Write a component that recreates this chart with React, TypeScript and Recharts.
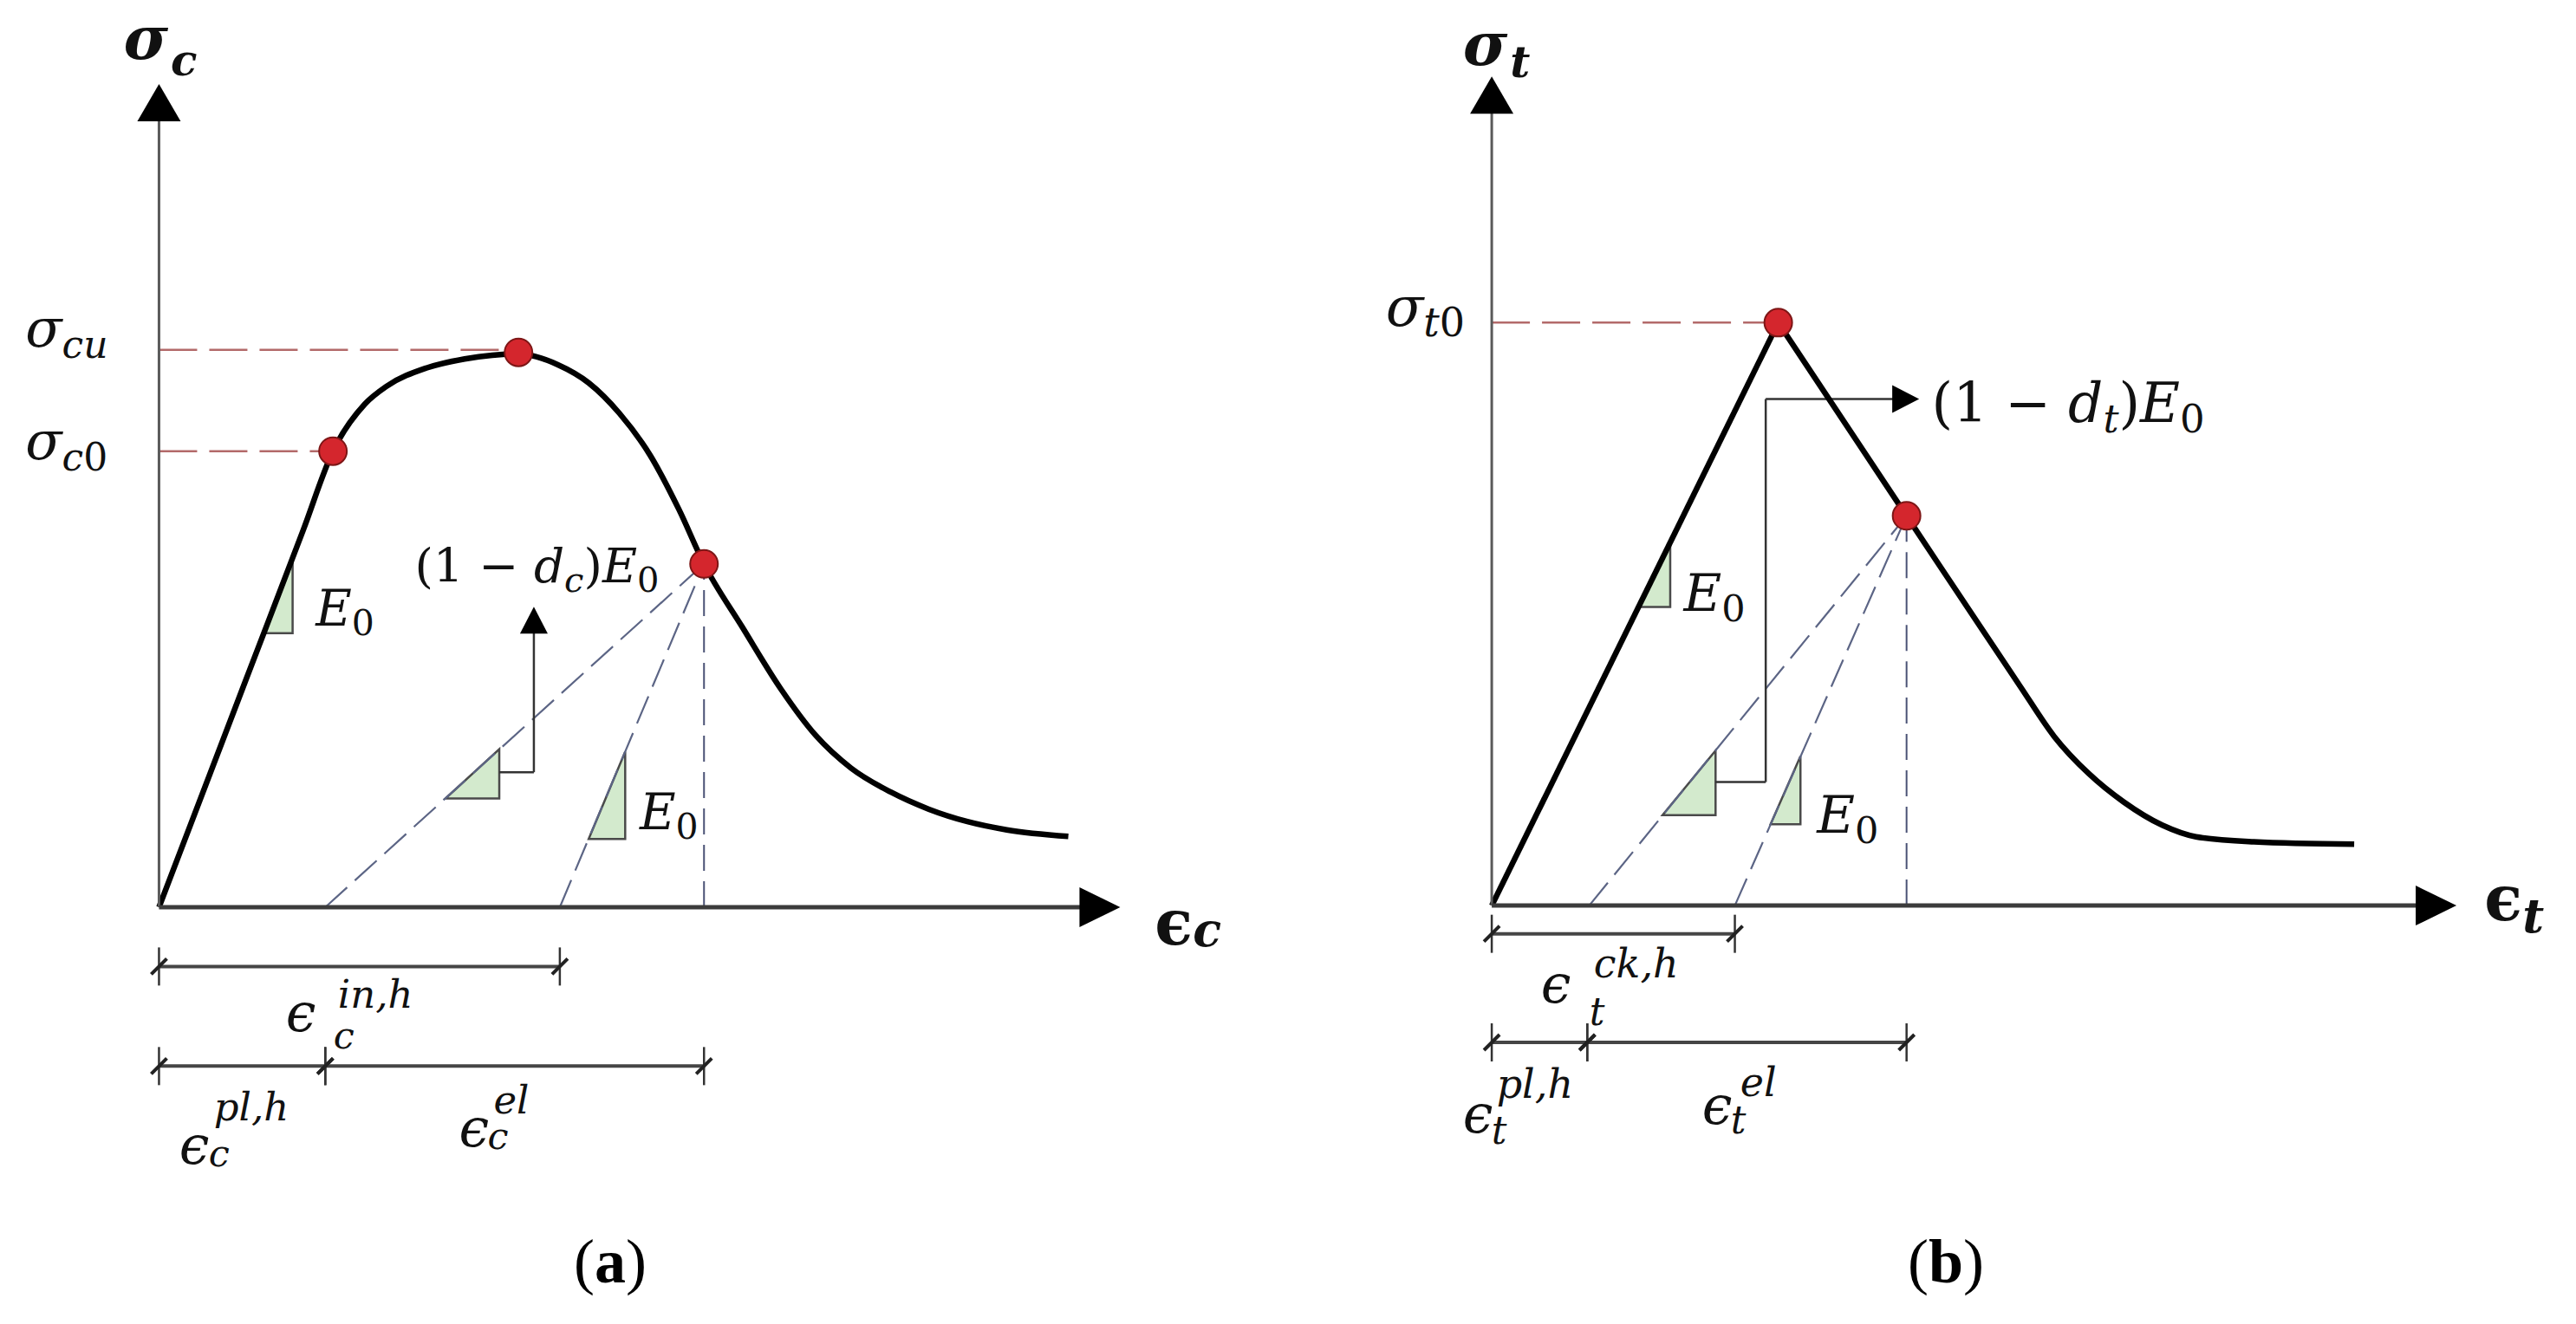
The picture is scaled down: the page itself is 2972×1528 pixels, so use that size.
import React from 'react';
import {
  LineChart,
  Line,
  XAxis,
  YAxis,
  ReferenceLine,
  ReferenceDot,
  ReferenceArea
} from 'recharts';

// ---------- (a) compression: strain / stress in arbitrary units ----------
const compStrain = [0, 0.9, 1.5, 1.81, 2.14, 2.37, 2.78, 3.18, 3.74, 4.15, 4.47, 4.79, 5.11, 5.41, 5.67, 6.07, 6.47, 6.83, 7.2, 7.61, 8.01, 8.41, 8.82, 9.46];
const compStress = [0, 2.75, 4.58, 5.54, 6.11, 6.33, 6.55, 6.66, 6.72, 6.59, 6.37, 6.0, 5.49, 4.83, 4.17, 3.4, 2.65, 2.09, 1.69, 1.4, 1.19, 1.04, 0.94, 0.86];
const compMarkStrain = [1.81, 3.74, 5.67]; // sigma_c0, sigma_cu, unloading point
const compMarkStress = [5.54, 6.74, 4.17];
const compLevelStress = [6.77, 5.54]; // sigma_cu, sigma_c0
const compLevelEnd = [3.74, 1.81];
const compUnloadFoot = [1.73, 4.17]; // damaged slope, E0 slope
const compTriX0 = [1.09, 2.98, 4.47];
const compTriX1 = [1.39, 3.54, 4.85];
const compTriY0 = [3.33, 1.32, 0.83];
const compTriY1 = [4.25, 1.92, 1.89];
const compStepX = [3.54, 3.9, 3.9];
const compStepY = [1.64, 1.64, 3.65];
const compDimY = [-0.72, -1.93];
const compDimInel = [0, 4.17];
const compDimSplit = [0, 1.73, 5.67];

// ---------- (b) tension ----------
const tensRiseStrain = [0, 2.97];
const tensRiseStress = [0, 7.03];
const tensSoftStrain = [2.97, 4.3, 5.48, 5.83, 6.19, 6.55, 6.95, 7.3, 7.9, 8.94];
const tensSoftStress = [7.03, 4.7, 2.64, 2.04, 1.59, 1.25, 0.97, 0.83, 0.77, 0.74];
const tensMarkStrain = [2.97, 4.3];
const tensMarkStress = [7.03, 4.7];
const tensLevelStress = [7.03];
const tensLevelEnd = [2.97];
const tensUnloadFoot = [1.01, 2.52];
const tensTriX0 = [1.52, 1.77, 2.89];
const tensTriX1 = [1.85, 2.32, 3.2];
const tensTriY0 = [3.6, 1.09, 0.98];
const tensTriY1 = [4.38, 1.87, 1.8];
const tensStepX = [2.32, 2.84, 2.84, 4.43];
const tensStepY = [1.49, 1.49, 6.11, 6.11];
const tensDimY = [-0.34, -1.65];
const tensDimCrack = [0, 2.52];
const tensDimSplit = [0, 0.99, 4.3];

const AXIS_MAX = 10;

const SERIF = '"DejaVu Serif", "Liberation Serif", serif';
const INK = '#111';

type Frame = { ox: number; oy: number; sx: number; sy: number; xDom: [number, number]; yDom: [number, number] };

// page position of each panel: origin in px and px per unit
const frameA: Frame = { ox: 183, oy: 1047, sx: 110.9, sy: 95, xDom: [-1.6, 11.6], yDom: [-4, 11] };
const frameB: Frame = { ox: 1721, oy: 1045, sx: 111.3, sy: 95.7, xDom: [-1.6, 11.2], yDom: [-4, 10.9] };

const pts = (xs: number[], ys: number[]) => xs.map((x, i) => ({ x, y: ys[i] }));

const arrowShape = (len: number, half: number, color: string, width: number) => (p: any) => {
  const { x1, y1, x2, y2 } = p;
  const dx = x2 - x1;
  const dy = y2 - y1;
  const L = Math.hypot(dx, dy) || 1;
  const ux = dx / L;
  const uy = dy / L;
  const bx = x2 - ux * len;
  const by = y2 - uy * len;
  return (
    <g>
      <line x1={x1} y1={y1} x2={bx + ux * 2} y2={by + uy * 2} stroke={color} strokeWidth={width} />
      <polygon
        points={`${x2},${y2} ${bx - uy * half},${by + ux * half} ${bx + uy * half},${by - ux * half}`}
        fill="#000"
      />
    </g>
  );
};

const dimShape = (p: any) => {
  const { x1, y1, x2, y2 } = p;
  return (
    <g>
      <line x1={x1} y1={y1} x2={x2} y2={y2} stroke="#454545" strokeWidth={4} />
      {[x1, x2].map((x: number, i: number) => (
        <g key={i}>
          <line x1={x} y1={y1 - 22} x2={x} y2={y1 + 22} stroke="#333" strokeWidth={2.5} />
          <line x1={x - 9} y1={y1 + 9} x2={x + 9} y2={y1 - 9} stroke="#222" strokeWidth={4} />
        </g>
      ))}
    </g>
  );
};

const triShape = (p: any) => {
  const { x, y, width, height } = p;
  return (
    <polygon
      points={`${x},${y + height} ${x + width},${y + height} ${x + width},${y}`}
      fill="#d3eacd"
      stroke="#4a4a4a"
      strokeWidth={2.5}
    />
  );
};

const T = (props: any) => <text fontFamily={SERIF} fill={INK} {...props} />;

const tag = (key: string, x: number, y: number, draw: (cx: number, cy: number) => React.ReactNode) => (
  <ReferenceDot
    key={key}
    x={x}
    y={y}
    r={0}
    isFront
    ifOverflow="visible"
    shape={(p: any) => <g>{draw(p.cx, p.cy)}</g>}
  />
);

interface PanelProps {
  frame: Frame;
  curves: { data: { x: number; y: number }[]; type: 'linear' | 'monotone' }[];
  marks: { x: number; y: number }[];
  levels: { y: number; end: number }[];
  apex: { x: number; y: number };
  feet: number[];
  tris: { x0: number; x1: number; y0: number; y1: number }[];
  step: { x: number; y: number }[];
  dims: { y: number; stops: number[] }[];
  labels: React.ReactNode[];
}

const Panel: React.FC<PanelProps> = ({ frame, curves, marks, levels, apex, feet, tris, step, dims, labels }) => {
  const left = frame.ox + frame.xDom[0] * frame.sx;
  const top = frame.oy - frame.yDom[1] * frame.sy;
  const width = (frame.xDom[1] - frame.xDom[0]) * frame.sx;
  const height = (frame.yDom[1] - frame.yDom[0]) * frame.sy;

  return (
    <div style={{ position: 'absolute', left, top, width, height }}>
      <LineChart width={width} height={height} margin={{ top: 0, right: 0, bottom: 0, left: 0 }}>
        <XAxis type="number" dataKey="x" domain={frame.xDom} allowDataOverflow hide />
        <YAxis type="number" dataKey="y" domain={frame.yDom} allowDataOverflow hide />

        {/* stress levels */}
        {levels.map((l, i) => (
          <ReferenceLine
            key={`lv${i}`}
            segment={[{ x: 0, y: l.y }, { x: l.end, y: l.y }]}
            stroke="#b36a6a"
            strokeWidth={2.5}
            strokeDasharray="44 14"
          />
        ))}

        {/* unloading lines */}
        {feet.map((f, i) => (
          <ReferenceLine
            key={`ul${i}`}
            segment={[{ x: f, y: 0 }, { x: apex.x, y: apex.y }]}
            stroke="#5c6585"
            strokeWidth={2.2}
            strokeDasharray="34 12"
          />
        ))}
        <ReferenceLine
          segment={[{ x: apex.x, y: 0 }, { x: apex.x, y: apex.y }]}
          stroke="#4a5275"
          strokeWidth={2}
          strokeDasharray="30 12"
        />

        {tris.map((t, i) => (
          <ReferenceArea key={`tr${i}`} x1={t.x0} x2={t.x1} y1={t.y0} y2={t.y1} shape={triShape} />
        ))}

        {/* step arrow pointing at the damaged modulus */}
        {step.slice(1).map((p, i) => (
          <ReferenceLine
            key={`st${i}`}
            segment={[step[i], p]}
            stroke="#333"
            strokeWidth={2.5}
            shape={i === step.length - 2 ? arrowShape(31, 16, '#333', 2.5) : undefined}
          />
        ))}

        {dims.map((d, i) =>
          d.stops.slice(1).map((s, j) => (
            <ReferenceLine
              key={`dm${i}-${j}`}
              segment={[{ x: d.stops[j], y: d.y }, { x: s, y: d.y }]}
              shape={dimShape}
            />
          ))
        )}

        {curves.map((c, i) => (
          <Line
            key={`cv${i}`}
            data={c.data}
            dataKey="y"
            type={c.type}
            stroke="#000"
            strokeWidth={6.5}
            dot={false}
            activeDot={false}
            isAnimationActive={false}
          />
        ))}

        {/* axes with arrow heads */}
        <ReferenceLine
          segment={[{ x: 0, y: 0 }, { x: 0, y: AXIS_MAX }]}
          isFront
          shape={arrowShape(43, 25, '#5a5a5a', 3)}
        />
        <ReferenceLine
          segment={[{ x: 0, y: 0 }, { x: AXIS_MAX, y: 0 }]}
          isFront
          shape={arrowShape(47, 23, '#3c3c3c', 5)}
        />

        {marks.map((m, i) => (
          <ReferenceDot
            key={`mk${i}`}
            x={m.x}
            y={m.y}
            r={16}
            fill="#d4262d"
            stroke="#7d1616"
            strokeWidth={2}
            isFront
          />
        ))}

        {labels}
      </LineChart>
    </div>
  );
};

const labelsA = [
  tag('a-sig', -0.37, 10.3, (x, y) => (
    <T x={x} y={y} fontSize={70} fontWeight="bold" fontStyle="italic">
      σ<tspan fontSize={50} dx={3} dy={19}>c</tspan>
    </T>
  )),
  tag('a-eps', 10.36, -0.45, (x, y) => (
    <T x={x} y={y} fontSize={72} fontWeight="bold">
      ϵ<tspan fontStyle="italic" fontSize={54} dy={2}>c</tspan>
    </T>
  )),
  tag('a-scu', -1.39, 6.81, (x, y) => (
    <T x={x} y={y} fontSize={62} fontStyle="italic">
      σ<tspan fontSize={44} dy={13}>cu</tspan>
    </T>
  )),
  tag('a-sc0', -1.39, 5.44, (x, y) => (
    <T x={x} y={y} fontSize={62} fontStyle="italic">
      σ<tspan fontSize={44} dy={13}>c</tspan>
      <tspan fontSize={44} fontStyle="normal">0</tspan>
    </T>
  )),
  tag('a-e1', 1.63, 3.42, (x, y) => (
    <T x={x} y={y} fontSize={57} fontStyle="italic">
      E<tspan fontSize={41} fontStyle="normal" dy={11}>0</tspan>
    </T>
  )),
  tag('a-e3', 5.0, 0.95, (x, y) => (
    <T x={x} y={y} fontSize={57} fontStyle="italic">
      E<tspan fontSize={41} fontStyle="normal" dy={11}>0</tspan>
    </T>
  )),
  tag('a-dmg', 2.66, 3.95, (x, y) => (
    <T x={x} y={y} fontSize={55}>
      {'(1 − '}
      <tspan fontStyle="italic">d</tspan>
      <tspan fontStyle="italic" fontSize={40} dy={11}>c</tspan>
      <tspan dy={-11}>)</tspan>
      <tspan fontStyle="italic">E</tspan>
      <tspan fontSize={40} dy={11}>0</tspan>
    </T>
  )),
  tag('a-in', 1.32, -1.51, (x, y) => (
    <g>
      <T x={x} y={y} fontSize={62} fontStyle="italic">ϵ</T>
      <T x={x + 60} y={y - 27} fontSize={45} fontStyle="italic">in,h</T>
      <T x={x + 55} y={y + 20} fontSize={43} fontStyle="italic">c</T>
    </g>
  )),
  tag('a-pl', 0.21, -3.12, (x, y) => (
    <g>
      <T x={x} y={y} fontSize={62} fontStyle="italic">ϵ</T>
      <T x={x + 40} y={y - 50} fontSize={45} fontStyle="italic">pl,h</T>
      <T x={x + 34} y={y + 3} fontSize={43} fontStyle="italic">c</T>
    </g>
  )),
  tag('a-el', 3.12, -2.91, (x, y) => (
    <g>
      <T x={x} y={y} fontSize={62} fontStyle="italic">ϵ</T>
      <T x={x + 40} y={y - 38} fontSize={45} fontStyle="italic">el</T>
      <T x={x + 33} y={y + 3} fontSize={43} fontStyle="italic">c</T>
    </g>
  ))
];

const labelsB = [
  tag('b-sig', -0.3, 10.14, (x, y) => (
    <T x={x} y={y} fontSize={70} fontWeight="bold" fontStyle="italic">
      σ<tspan fontSize={50} dx={3} dy={14}>t</tspan>
    </T>
  )),
  tag('b-eps', 10.29, -0.18, (x, y) => (
    <T x={x} y={y} fontSize={72} fontWeight="bold">
      ϵ<tspan fontStyle="italic" fontSize={54} dy={14}>t</tspan>
    </T>
  )),
  tag('b-st0', -1.1, 6.99, (x, y) => (
    <T x={x} y={y} fontSize={64} fontStyle="italic">
      σ<tspan fontSize={46} dy={12}>t</tspan>
      <tspan fontSize={46} fontStyle="normal">0</tspan>
    </T>
  )),
  tag('b-e1', 1.99, 3.55, (x, y) => (
    <T x={x} y={y} fontSize={60} fontStyle="italic">
      E<tspan fontSize={43} fontStyle="normal" dy={12}>0</tspan>
    </T>
  )),
  tag('b-e3', 3.37, 0.88, (x, y) => (
    <T x={x} y={y} fontSize={60} fontStyle="italic">
      E<tspan fontSize={43} fontStyle="normal" dy={12}>0</tspan>
    </T>
  )),
  tag('b-dmg', 4.56, 5.83, (x, y) => (
    <T x={x} y={y} fontSize={63}>
      {'(1 − '}
      <tspan fontStyle="italic">d</tspan>
      <tspan fontStyle="italic" fontSize={45} dy={12}>t</tspan>
      <tspan dy={-12}>)</tspan>
      <tspan fontStyle="italic">E</tspan>
      <tspan fontSize={45} dy={12}>0</tspan>
    </T>
  )),
  tag('b-ck', 0.51, -1.17, (x, y) => (
    <g>
      <T x={x} y={y} fontSize={62} fontStyle="italic">ϵ</T>
      <T x={x + 61} y={y - 29} fontSize={46} fontStyle="italic">ck,h</T>
      <T x={x + 56} y={y + 26} fontSize={44} fontStyle="italic">t</T>
    </g>
  )),
  tag('b-pl', -0.3, -2.74, (x, y) => (
    <g>
      <T x={x} y={y} fontSize={62} fontStyle="italic">ϵ</T>
      <T x={x + 39} y={y - 40} fontSize={46} fontStyle="italic">pl,h</T>
      <T x={x + 33} y={y + 13} fontSize={44} fontStyle="italic">t</T>
    </g>
  )),
  tag('b-el', 2.18, -2.63, (x, y) => (
    <g>
      <T x={x} y={y} fontSize={62} fontStyle="italic">ϵ</T>
      <T x={x + 44} y={y - 32} fontSize={46} fontStyle="italic">el</T>
      <T x={x + 33} y={y + 11} fontSize={44} fontStyle="italic">t</T>
    </g>
  ))
];

const zipTris = (x0: number[], x1: number[], y0: number[], y1: number[]) =>
  x0.map((v, i) => ({ x0: v, x1: x1[i], y0: y0[i], y1: y1[i] }));

const captionStyle: React.CSSProperties = {
  position: 'absolute',
  top: 1420,
  width: 200,
  textAlign: 'center',
  fontFamily: '"Liberation Serif", serif',
  fontSize: 72,
  lineHeight: '72px',
  color: '#000'
};

export default function App() {
  return (
    <div style={{ position: 'absolute', left: 0, top: 0, width: 2972, height: 1528, background: '#fff', overflow: 'hidden' }}>
      <Panel
        frame={frameA}
        curves={[{ data: pts(compStrain, compStress), type: 'monotone' }]}
        marks={pts(compMarkStrain, compMarkStress)}
        levels={compLevelStress.map((y, i) => ({ y, end: compLevelEnd[i] }))}
        apex={{ x: compMarkStrain[2], y: compMarkStress[2] }}
        feet={compUnloadFoot}
        tris={zipTris(compTriX0, compTriX1, compTriY0, compTriY1)}
        step={pts(compStepX, compStepY)}
        dims={[
          { y: compDimY[0], stops: compDimInel },
          { y: compDimY[1], stops: compDimSplit }
        ]}
        labels={labelsA}
      />
      <Panel
        frame={frameB}
        curves={[
          { data: pts(tensRiseStrain, tensRiseStress), type: 'linear' },
          { data: pts(tensSoftStrain, tensSoftStress), type: 'monotone' }
        ]}
        marks={pts(tensMarkStrain, tensMarkStress)}
        levels={tensLevelStress.map((y, i) => ({ y, end: tensLevelEnd[i] }))}
        apex={{ x: tensMarkStrain[1], y: tensMarkStress[1] }}
        feet={tensUnloadFoot}
        tris={zipTris(tensTriX0, tensTriX1, tensTriY0, tensTriY1)}
        step={pts(tensStepX, tensStepY)}
        dims={[
          { y: tensDimY[0], stops: tensDimCrack },
          { y: tensDimY[1], stops: tensDimSplit }
        ]}
        labels={labelsB}
      />
      <div style={{ ...captionStyle, left: 604 }}>
        (<b>a</b>)
      </div>
      <div style={{ ...captionStyle, left: 2145 }}>
        (<b>b</b>)
      </div>
    </div>
  );
}
